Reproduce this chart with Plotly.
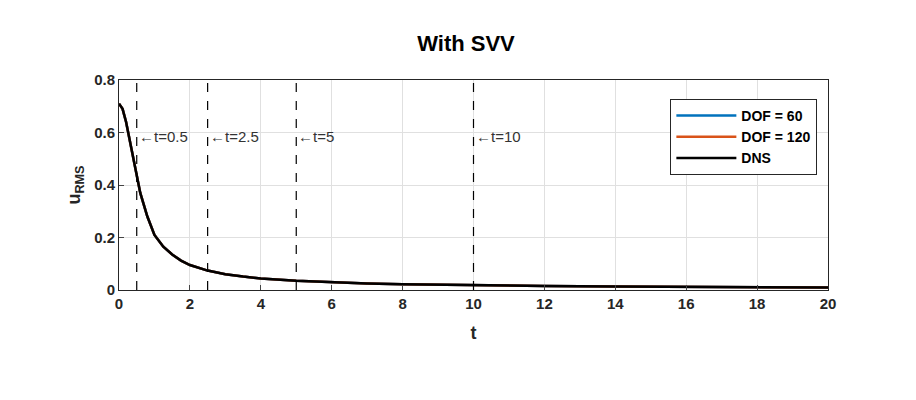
import plotly.graph_objects as go

t = [0, 0.1, 0.2, 0.3, 0.4, 0.5, 0.6, 0.8, 1.0, 1.25, 1.5, 1.75, 2.0, 2.5, 3.0, 3.5, 4.0, 5.0, 6.0, 7.0, 8.0, 10.0, 12.0, 14.0, 16.0, 18.0, 20.0]
u_dns = [0.71, 0.69, 0.64, 0.57, 0.50, 0.43, 0.37, 0.28, 0.21, 0.165, 0.135, 0.112, 0.095, 0.074, 0.060, 0.051, 0.044, 0.035, 0.029, 0.025, 0.022, 0.018, 0.015, 0.013, 0.012, 0.011, 0.010]
u_60 = [0.71, 0.69, 0.64, 0.57, 0.50, 0.43, 0.37, 0.28, 0.21, 0.165, 0.135, 0.112, 0.095, 0.074, 0.060, 0.051, 0.044, 0.035, 0.029, 0.025, 0.022, 0.018, 0.015, 0.013, 0.012, 0.011, 0.010]
u_120 = [0.71, 0.69, 0.64, 0.57, 0.50, 0.43, 0.37, 0.28, 0.21, 0.165, 0.135, 0.112, 0.095, 0.074, 0.060, 0.051, 0.044, 0.035, 0.029, 0.025, 0.022, 0.018, 0.015, 0.013, 0.012, 0.011, 0.010]
marks = [0.5, 2.5, 5, 10]
mark_labels = ["←t=0.5", "←t=2.5", "←t=5", "←t=10"]
y_ticks = [0, 0.2, 0.4, 0.6, 0.8]
y_tick_labels = ["0", "0.2", "0.4", "0.6", "0.8"]

fig = go.Figure()
fig.add_trace(go.Scatter(x=t, y=u_60, mode="lines", name="<b>DOF = 60</b>", line=dict(color="#0072BD", width=2.5)))
fig.add_trace(go.Scatter(x=t, y=u_120, mode="lines", name="<b>DOF = 120</b>", line=dict(color="#D95319", width=2.5)))
fig.add_trace(go.Scatter(x=t, y=u_dns, mode="lines", name="<b>DNS</b>", line=dict(color="black", width=2.5)))

for m, lab in zip(marks, mark_labels):
    fig.add_shape(type="line", x0=m, x1=m, y0=0, y1=0.8, xref="x", yref="y",
                  line=dict(color="black", width=1.2, dash="dash"))
    fig.add_annotation(x=m, y=0.586, text=lab, showarrow=False, xanchor="left",
                       font=dict(family="Arial", size=15, color="#333"))

ax = dict(showline=True, linecolor="#262626", linewidth=1, mirror=True, ticks="inside", ticklen=5,
          showgrid=True, gridcolor="#e0e0e0", zeroline=False,
          tickfont=dict(family="Arial", size=15, color="#262626"))
fig.update_xaxes(range=[0, 20], dtick=2, tickprefix="<b>", ticksuffix="</b>",
                 title=dict(text="<b>t</b>", font=dict(family="Arial", size=18, color="#262626")), **ax)
fig.update_yaxes(range=[0, 0.8], tickvals=y_ticks, ticktext=["<b>" + s + "</b>" for s in y_tick_labels],
                 title=dict(text="<b>u<sub>RMS</sub></b>", font=dict(family="Arial", size=18, color="#262626"), standoff=8), **ax)

fig.update_layout(
    width=916, height=400, plot_bgcolor="white", paper_bgcolor="white",
    margin=dict(l=111, r=96, t=72, b=118),
    title=dict(text="<b>With SVV</b>", x=0.5, xanchor="center", y=0.93, font=dict(family="Arial", size=22, color="black")),
    legend=dict(x=0.985, y=0.91, xanchor="right", yanchor="top", bgcolor="white",
                bordercolor="#262626", borderwidth=1, itemwidth=60,
                font=dict(family="Arial", size=14, color="black")),
    showlegend=True,
)
fig.write_html("out.html")
